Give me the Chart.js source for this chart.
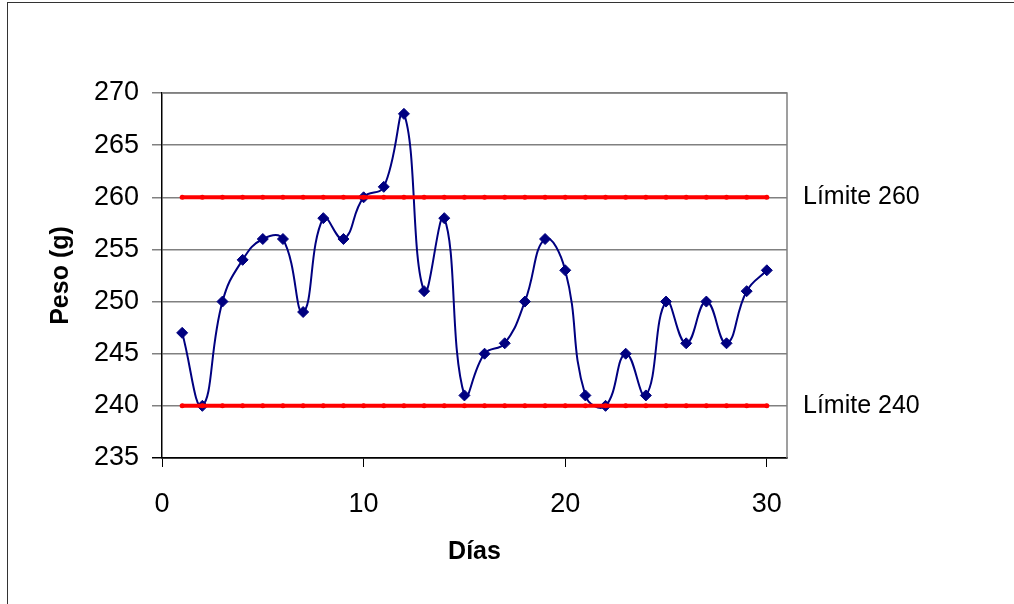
<!DOCTYPE html>
<html>
<head>
<meta charset="utf-8">
<script src="https://cdn.jsdelivr.net/npm/chart.js@4"></script>
<style>
    html, body { margin: 0; padding: 0; background: #fff; }
    #wrap { position: relative; width: 1014px; height: 604px; overflow: hidden; }
    #frame { position: absolute; left: 7px; top: 2px; width: 1100px; height: 700px; border: 1.5px solid #333; }
    canvas { position: absolute; left: 0; top: 0; }
</style>
</head>
<body>
<div id="wrap">
    <div id="frame"></div>
    <canvas id="myChart" width="1014" height="604"></canvas>
</div>
<script>
/* ========== Datos =============== */

const dias = [1, 2, 3, 4, 5, 6, 7, 8, 9, 10, 11, 12, 13, 14, 15, 16, 17, 18, 19, 20, 21, 22, 23, 24, 25, 26, 27, 28, 29, 30];
const peso = [247, 240, 250, 254, 256, 256, 249, 258, 256, 260, 261, 268, 251, 258, 241, 245, 246, 250, 256, 253, 241, 240, 245, 241, 250, 246, 250, 246, 251, 253];
const limiteSup = 260;
const limiteInf = 240;
const xTicks = [0, 10, 20, 30];
const yMin = 235;
const yMax = 270;

const FONT = "'Liberation Sans', Arial, sans-serif";

function toPoints(ys) {
    return dias.map((d, i) => ({ x: d, y: ys[i] }));
}

// etiquetas "Límite ..." a la derecha del área
const limitLabels = {
    id: 'limitLabels',
    afterDraw(chart) {
        const ctx = chart.ctx;
        const yScale = chart.scales.y;
        const x = chart.chartArea.right + 16;
        ctx.save();
        ctx.fillStyle = '#000';
        ctx.font = '25px ' + FONT;
        ctx.textBaseline = 'middle';
        ctx.textAlign = 'left';
        [limiteSup, limiteInf].forEach(v => {
            ctx.fillText('Límite ' + v, x, yScale.getPixelForValue(v));
        });
        ctx.restore();
    }
};

// borde gris del área de trazado (arriba y derecha)
const plotBorder = {
    id: 'plotBorder',
    beforeDatasetsDraw(chart) {
        const { ctx, chartArea } = chart;
        ctx.save();
        ctx.strokeStyle = '#808080';
        ctx.lineWidth = 1.5;
        ctx.beginPath();
        ctx.moveTo(chartArea.left, chartArea.top);
        ctx.lineTo(chartArea.right, chartArea.top);
        ctx.lineTo(chartArea.right, chartArea.bottom);
        ctx.stroke();
        ctx.restore();
    }
};

const ctxPeso = document.getElementById('myChart');

new Chart(ctxPeso, {
    type: 'line',
    data: {
        datasets: [{
            label: 'Límite 260',
            data: toPoints(dias.map(() => limiteSup)),
            borderColor: '#FF0000',
            backgroundColor: '#FF0000',
            borderWidth: 4,
            pointRadius: 2.5,
            pointStyle: 'circle',
            pointBorderWidth: 0,
            tension: 0,
            order: 0
        }, {
            label: 'Límite 240',
            data: toPoints(dias.map(() => limiteInf)),
            borderColor: '#FF0000',
            backgroundColor: '#FF0000',
            borderWidth: 4,
            pointRadius: 2.5,
            pointStyle: 'circle',
            pointBorderWidth: 0,
            tension: 0,
            order: 0
        }, {
            label: 'Peso',
            data: toPoints(peso),
            borderColor: '#000080',
            backgroundColor: '#000080',
            borderWidth: 2,
            pointStyle: 'rectRot',
            pointRadius: 5.5,
            pointBorderWidth: 1,
            tension: 0.45,
            order: 1
        }]
    },
    options: {
        responsive: false,
        animation: false,
        layout: {
            padding: { top: 93, right: 227, bottom: 0, left: 0 }
        },
        plugins: {
            legend: { display: false },
            tooltip: { enabled: false }
        },
        scales: {
            x: {
                type: 'linear',
                min: 0,
                max: 31,
                afterBuildTicks: (scale) => {
                    scale.ticks = xTicks.map(v => ({ value: v }));
                },
                afterFit: (scale) => { scale.height = 146; },
                grid: {
                    drawOnChartArea: false,
                    drawTicks: true,
                    tickLength: 9,
                    color: '#000'
                },
                border: { color: '#000', width: 1.5 },
                ticks: {
                    color: '#000',
                    font: { family: FONT, size: 27 },
                    padding: 21,
                    maxRotation: 0
                },
                title: {
                    display: true,
                    text: 'Días',
                    color: '#000',
                    font: { family: FONT, size: 25, weight: 'bold' },
                    padding: { top: 37, bottom: 37 }
                }
            },
            y: {
                min: yMin,
                max: yMax,
                afterFit: (scale) => { scale.width = 162; },
                ticks: {
                    stepSize: 5,
                    color: '#000',
                    font: { family: FONT, size: 27 },
                    padding: 13
                },
                grid: {
                    color: (c) => c.tick && c.tick.value === yMin ? '#000' : '#808080',
                    lineWidth: 1.5,
                    tickLength: 10
                },
                border: { color: '#000', width: 1.5 },
                title: {
                    display: true,
                    text: 'Peso (g)',
                    color: '#000',
                    font: { family: FONT, size: 25, weight: 'bold' },
                    padding: { top: 46, bottom: 46 }
                }
            }
        }
    },
    plugins: [plotBorder, limitLabels]
});
</script>
</body>
</html>
